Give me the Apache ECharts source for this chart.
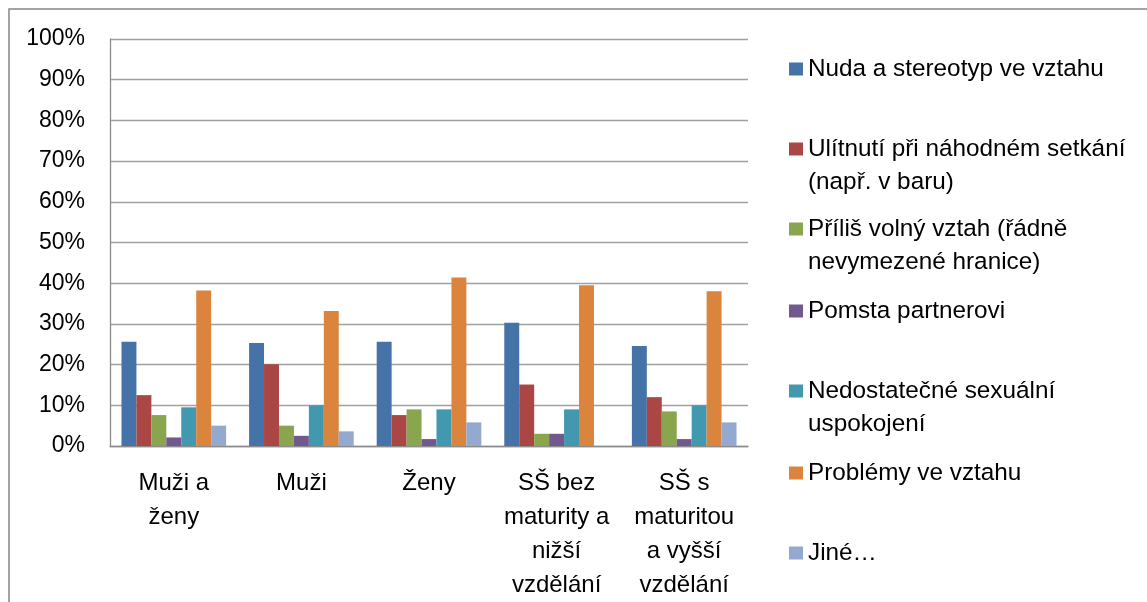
<!DOCTYPE html>
<html>
<head>
<meta charset="utf-8">
<script src="https://cdn.jsdelivr.net/npm/echarts@6/dist/echarts.min.js"></script>
<style>
  html, body { margin: 0; padding: 0; background: #fff; }
  #main { width: 1147px; height: 602px; }
</style>
</head>
<body>
<div id="main"></div>
<script>
var myChart = echarts.init(document.getElementById('main'));

var categories = ['Muži a\nženy', 'Muži', 'Ženy', 'SŠ bez\nmaturity a\nnižší\nvzdělání', 'SŠ s\nmaturitou\na vyšší\nvzdělání'];

var seriesNames = [
  'Nuda a stereotyp ve vztahu',
  'Ulítnutí při náhodném setkání (např. v baru)',
  'Příliš volný vztah (řádně nevymezené hranice)',
  'Pomsta partnerovi',
  'Nedostatečné sexuální uspokojení',
  'Problémy ve vztahu',
  'Jiné…'
];
var legendText = [
  'Nuda a stereotyp ve vztahu',
  'Ulítnutí při náhodném setkání\n(např. v baru)',
  'Příliš volný vztah (řádně\nnevymezené hranice)',
  'Pomsta partnerovi',
  'Nedostatečné sexuální\nuspokojení',
  'Problémy ve vztahu',
  'Jiné…'
];

var nuda = [25.6, 25.3, 25.6, 30.3, 24.6];
var ulitnuti = [12.5, 20.1, 7.6, 15.1, 12.0];
var prilisVolny = [7.6, 5.0, 9.0, 3.0, 8.5];
var pomsta = [2.1, 2.5, 1.7, 3.0, 1.7];
var nedostatecne = [9.5, 10.0, 9.0, 9.0, 10.0];
var problemy = [38.2, 33.2, 41.4, 39.5, 38.0];
var jine = [5.0, 3.6, 5.8, 0, 5.8];

var seriesData = [nuda, ulitnuti, prilisVolny, pomsta, nedostatecne, problemy, jine];
var colors = ['#4572A7', '#AA4643', '#89A54E', '#71588F', '#4198AF', '#DB843D', '#93A9CF'];

// centre of each legend entry's first line; one legend per entry keeps Excel's uneven spacing
var legendCenters = [69, 149, 229, 311, 391, 473, 553];
var LH = 33;

var legends = seriesNames.map(function (name, i) {
  var twoLines = legendText[i].indexOf('\n') >= 0;
  // leading empty line puts the first text line level with the icon
  var txt = twoLines ? '\n' + legendText[i] : legendText[i];
  return {
    data: [name],
    left: 789,
    top: twoLines ? legendCenters[i] - LH * 1.5 : legendCenters[i] - LH / 2,
    padding: 0,
    itemWidth: 14,
    itemHeight: 13,
    icon: 'rect',
    selectedMode: false,
    formatter: function () { return txt; },
    textStyle: {
      fontFamily: 'Liberation Sans',
      fontSize: 24.3,
      color: '#000',
      lineHeight: LH
    }
  };
});

var series = seriesNames.map(function (name, i) {
  return {
    name: name,
    type: 'bar',
    data: seriesData[i],
    barGap: '0%',
    barCategoryGap: '18%',
    itemStyle: {
      color: colors[i]
    }
  };
});

option = {
  animation: false,
  color: colors,
  graphic: [
    {
      type: 'rect',
      shape: { x: 9, y: 9, width: 1300, height: 800 },
      style: { fill: 'none', stroke: '#868686', lineWidth: 1.5 }
    }
  ],
  legend: legends,
  grid: {
    left: 110,
    top: 39,
    right: 399,
    bottom: 155
  },
  xAxis: {
    type: 'category',
    data: categories,
    axisLine: { lineStyle: { color: '#8c8c8c', width: 1.3 } },
    axisTick: { show: false },
    axisLabel: {
      interval: 0,
      margin: 20,
      fontFamily: 'Liberation Sans',
      fontSize: 24,
      lineHeight: 34,
      color: '#000'
    }
  },
  yAxis: {
    type: 'value',
    min: 0,
    max: 100,
    interval: 10,
    axisLine: { show: true, lineStyle: { color: '#8c8c8c', width: 1.3 } },
    axisTick: { show: false },
    splitLine: { lineStyle: { color: '#a0a0a0', width: 1.3 } },
    axisLabel: {
      formatter: '{value}%',
      margin: 25,
      fontFamily: 'Liberation Sans',
      fontSize: 23,
      color: '#000'
    }
  },
  series: series
};

myChart.setOption(option);
</script>
</body>
</html>
